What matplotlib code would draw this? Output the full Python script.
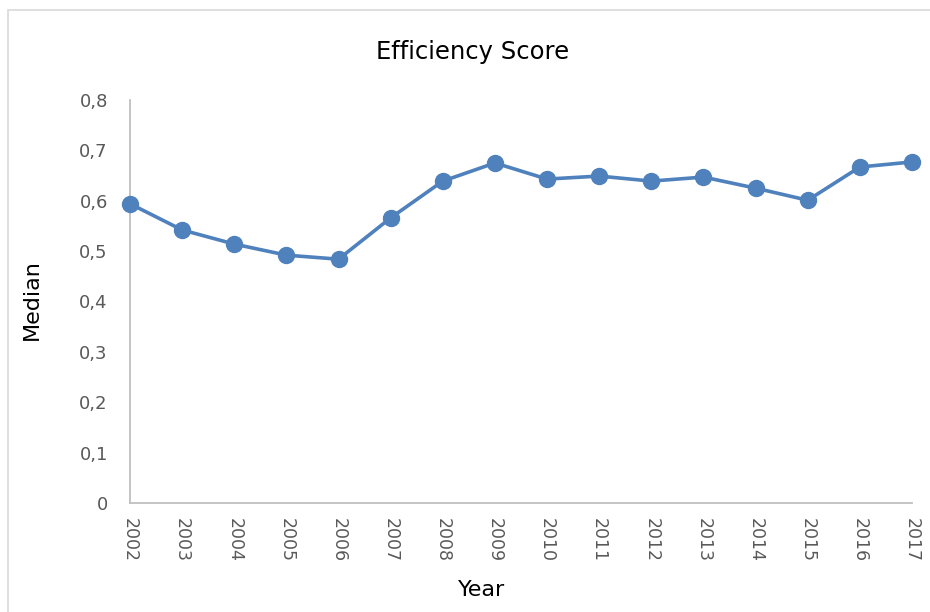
import matplotlib.pyplot as plt
from matplotlib.patches import Rectangle

# medians
years = [2002, 2003, 2004, 2005, 2006, 2007, 2008, 2009,
         2010, 2011, 2012, 2013, 2014, 2015, 2016, 2017]
median = [0.594, 0.542, 0.514, 0.492, 0.484, 0.566, 0.639, 0.675,
          0.643, 0.649, 0.639, 0.647, 0.625, 0.601, 0.667, 0.677]
yticks = [0, 0.1, 0.2, 0.3, 0.4, 0.5, 0.6, 0.7, 0.8]
ylabels = ["0", "0,1", "0,2", "0,3", "0,4", "0,5", "0,6", "0,7", "0,8"]

W, H = 930, 612
fig = plt.figure(figsize=(W / 100, H / 100), dpi=100)
# chart-area frame, cut off on the right and bottom like the screenshot
fig.patches.append(Rectangle((8 / W, -0.1), 1.2, 1.1 - 10 / H, transform=fig.transFigure,
                             fill=False, edgecolor="#D9D9D9", linewidth=1.2))

ax = fig.add_axes([130 / W, 1 - 503 / H, (912 - 130) / W, (503 - 100) / H])
ax.plot(years, median, color="#4F81BD", linewidth=2.6, marker="o",
        markersize=11.5, clip_on=False, zorder=3)

ax.set_xlim(2002, 2017)
ax.set_ylim(0, 0.8)
ax.set_xticks(years)
ax.set_xticklabels([str(y) for y in years], rotation=-90, fontsize=12.5, color="#595959")
ax.set_yticks(yticks)
ax.set_yticklabels(ylabels, fontsize=13, color="#595959")
ax.tick_params(axis="both", length=0)
ax.tick_params(axis="y", pad=16)
ax.tick_params(axis="x", pad=11)

for s in ["top", "right"]:
    ax.spines[s].set_visible(False)
for s in ["left", "bottom"]:
    ax.spines[s].set_color("#BFBFBF")
    ax.spines[s].set_linewidth(1.3)

fig.text(473 / W, 1 - 52 / H, "Efficiency Score", ha="center", va="center", fontsize=17.5)
fig.text(32 / W, 1 - 300 / H, "Median", ha="center", va="center", rotation=90, fontsize=16)
fig.text(482 / W, 1 - 590 / H, "Year", ha="center", va="center", fontsize=16)

fig.savefig("out.png", dpi=100)
